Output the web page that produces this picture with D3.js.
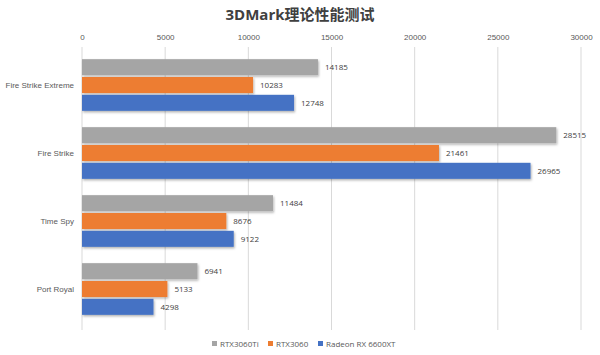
<!DOCTYPE html>
<html><head><meta charset="utf-8">
<script src="https://cdn.jsdelivr.net/npm/d3@7"></script>
<style>body{margin:0;background:#fff}svg{display:block;font-family:"Open Sans","Noto Sans CJK SC",sans-serif}</style>
</head><body><svg id="c" width="600" height="355"></svg>
<script>
const categories = ["Fire Strike Extreme","Fire Strike","Time Spy","Port Royal"];
const seriesNames = ["RTX3060Ti","RTX3060","Radeon RX 6600XT"];
const rtx3060ti = [14185,28515,11484,6941];
const rtx3060 = [10283,21461,8676,5133];
const rx6600xt = [12748,26965,9122,4298];
const xTicks = [0,5000,10000,15000,20000,25000,30000];
const colors = ["#a5a5a5","#ed7d31","#4472c4"];
const seriesVals = [rtx3060ti, rtx3060, rx6600xt];

const svg = d3.select("#c");
const x = d3.scaleLinear().domain([0,30000]).range([82,581]);
const y = d3.scaleBand().domain(categories).range([51,323]).paddingInner(0.24).paddingOuter(0.12);
const ys = d3.scaleBand().domain(seriesNames).range([0,y.bandwidth()]).paddingInner(0.1);

const defs = svg.append("defs");
const f = defs.append("filter").attr("id","sh").attr("x","-5%").attr("y","-20%").attr("width","115%").attr("height","160%");
f.append("feDropShadow").attr("dx",1).attr("dy",1.5).attr("stdDeviation",1).attr("flood-color","#000").attr("flood-opacity",0.3);

svg.append("text").attr("x",300).attr("y",20).attr("text-anchor","middle")
  .attr("font-size",15).attr("font-weight","bold").attr("fill","#404040").text("3DMark理论性能测试");

const ax = svg.append("g").attr("transform","translate(0,43)")
  .call(d3.axisTop(x).tickValues(xTicks).tickFormat(d3.format("d")).tickSize(0).tickPadding(3));
ax.select(".domain").remove();
ax.selectAll("text").attr("font-size",8).attr("fill","#595959");

svg.append("g").selectAll("line").data(xTicks).join("line")
  .attr("x1",d=>x(d)).attr("x2",d=>x(d)).attr("y1",47).attr("y2",330)
  .attr("stroke","#d9d9d9").attr("stroke-width",1);

const ay = svg.append("g").attr("transform","translate(78,0)")
  .call(d3.axisLeft(y).tickSize(0).tickPadding(4));
ay.select(".domain").remove();
ay.selectAll("text").attr("font-size",8).attr("fill","#595959");

seriesNames.forEach((s,si)=>{
  const g = svg.append("g");
  g.selectAll("rect").data(categories).join("rect")
    .attr("x",x(0)).attr("y",(c)=>y(c)+ys(s))
    .attr("width",(c,i)=>x(seriesVals[si][i])-x(0)).attr("height",ys.bandwidth())
    .attr("fill",colors[si]).attr("filter","url(#sh)");
  g.selectAll("text").data(categories).join("text")
    .attr("x",(c,i)=>x(seriesVals[si][i])+7).attr("y",(c)=>y(c)+ys(s)+ys.bandwidth()/2)
    .attr("dy","0.35em").attr("font-size",8).attr("fill","#404040")
    .text((c,i)=>seriesVals[si][i]);
});

const leg = svg.append("g").attr("transform","translate(212,344)");
const legX = [0,56,106];
seriesNames.forEach((s,i)=>{
  leg.append("rect").attr("x",legX[i]).attr("y",-3).attr("width",5).attr("height",5).attr("fill",colors[i]);
  leg.append("text").attr("x",legX[i]+8).attr("y",0).attr("dy","0.35em").attr("font-size",8).attr("fill","#595959").text(s);
});
</script></body></html>
